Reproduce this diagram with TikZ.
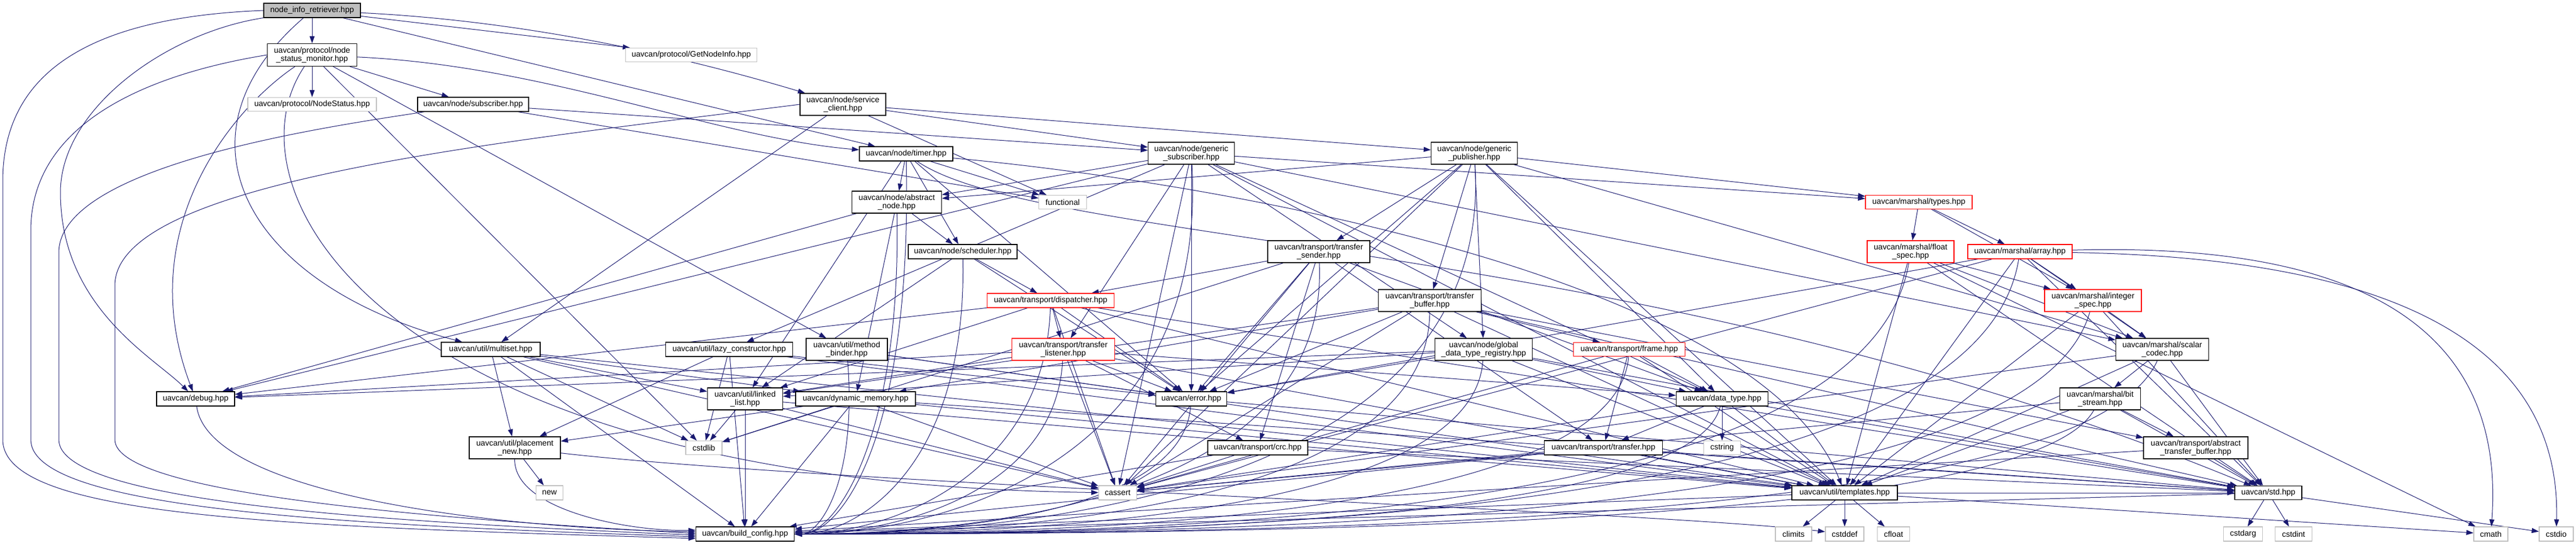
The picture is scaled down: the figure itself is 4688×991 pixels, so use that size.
\documentclass[tikz,border=0pt]{standalone}
\usepackage{fontspec}
\setmainfont{Liberation Sans}
\usetikzlibrary{arrows.meta}
\definecolor{edgec}{RGB}{25,25,112}
\definecolor{greyb}{RGB}{191,191,191}
\newcommand\nodefnt{\fontsize{14.5}{15}\selectfont}
\pgfdeclarelayer{bg}
\pgfsetlayers{bg,main}
\tikzset{
  filebox/.style={draw=black, fill=white, line width=1.2pt, inner sep=0pt, align=center, font=\nodefnt},
  sysbox/.style={filebox, draw=greyb},
  truncbox/.style={filebox, draw=red},
  rootbox/.style={filebox, fill=greyb},
  e/.style={draw=edgec, line width=1pt, -{Triangle[length=13pt,width=9pt]}, edgec}
}
\newcommand\lnk[2]{\draw[e] (#1) -- (#2);}
\newcommand\bcR[4]{\draw[e] (#1) .. controls (#2,#3) and (#4,972) .. (bc.east);}
\begin{document}
\begin{tikzpicture}[x=1pt,y=-1pt]
\useasboundingbox (0,0) rectangle (4688,991);
% nodes
\node[rootbox, minimum width=176pt, minimum height=26pt] (nir) at (568,19) {node\_info\_retriever.hpp};
\node[filebox, minimum width=163pt, minimum height=41pt] (nsm) at (568,100) {uavcan/protocol/node\\\_status\_monitor.hpp};
\node[sysbox, minimum width=234pt, minimum height=25pt] (ns) at (568,190) {uavcan/protocol/NodeStatus.hpp};
\node[sysbox, minimum width=239pt, minimum height=25pt] (gni) at (1258,100) {uavcan/protocol/GetNodeInfo.hpp};
\node[filebox, minimum width=202pt, minimum height=26pt] (sub) at (861,190) {uavcan/node/subscriber.hpp};
\node[filebox, minimum width=156pt, minimum height=40pt] (sc) at (1534,190) {uavcan/node/service\\\_client.hpp};
\node[filebox, minimum width=170pt, minimum height=26pt] (timer) at (1649,280) {uavcan/node/timer.hpp};
\node[filebox, minimum width=157pt, minimum height=40pt] (gsub) at (2168,279) {uavcan/node/generic\\\_subscriber.hpp};
\node[filebox, minimum width=157pt, minimum height=40pt] (gpub) at (2683,279) {uavcan/node/generic\\\_publisher.hpp};
\node[filebox, minimum width=163pt, minimum height=40pt] (an) at (1632,368) {uavcan/node/abstract\\\_node.hpp};
\node[sysbox, minimum width=87pt, minimum height=25pt] (func) at (1934,368) {functional};
\node[truncbox, minimum width=194pt, minimum height=25pt] (types) at (3492,368) {uavcan/marshal/types.hpp};
\node[filebox, minimum width=198pt, minimum height=26pt] (sched) at (1752,458) {uavcan/node/scheduler.hpp};
\node[filebox, minimum width=186pt, minimum height=40pt] (tsend) at (2400,458) {uavcan/transport/transfer\\\_sender.hpp};
\node[truncbox, minimum width=158pt, minimum height=40pt] (fspec) at (3477,458) {uavcan/marshal/float\\\_spec.hpp};
\node[truncbox, minimum width=190pt, minimum height=26pt] (array) at (3676,458) {uavcan/marshal/array.hpp};
\node[truncbox, minimum width=231pt, minimum height=26pt] (disp) at (1912,547) {uavcan/transport/dispatcher.hpp};
\node[filebox, minimum width=187pt, minimum height=40pt] (tbuf) at (2602,547) {uavcan/transport/transfer\\\_buffer.hpp};
\node[truncbox, minimum width=176pt, minimum height=40pt] (ispec) at (3809,547) {uavcan/marshal/integer\\\_spec.hpp};
\node[filebox, minimum width=180pt, minimum height=26pt] (mset) at (893,636) {uavcan/util/multiset.hpp};
\node[filebox, minimum width=231pt, minimum height=26pt] (lazy) at (1327,636) {uavcan/util/lazy\_constructor.hpp};
\node[filebox, minimum width=148pt, minimum height=40pt] (mb) at (1541,636) {uavcan/util/method\\\_binder.hpp};
\node[truncbox, minimum width=187pt, minimum height=40pt] (tlis) at (1935,636) {uavcan/transport/transfer\\\_listener.hpp};
\node[filebox, minimum width=177pt, minimum height=40pt] (gdtr) at (2700,636) {uavcan/node/global\\\_data\_type\_registry.hpp};
\node[truncbox, minimum width=203pt, minimum height=25pt] (frame) at (2965,636) {uavcan/transport/frame.hpp};
\node[filebox, minimum width=169pt, minimum height=40pt] (scodec) at (3935,636) {uavcan/marshal/scalar\\\_codec.hpp};
\node[filebox, minimum width=142pt, minimum height=26pt] (debug) at (356,726) {uavcan/debug.hpp};
\node[filebox, minimum width=137pt, minimum height=40pt] (ll) at (1356,726) {uavcan/util/linked\\\_list.hpp};
\node[filebox, minimum width=218pt, minimum height=26pt] (dm) at (1557,726) {uavcan/dynamic\_memory.hpp};
\node[filebox, minimum width=129pt, minimum height=26pt] (err) at (2168,726) {uavcan/error.hpp};
\node[filebox, minimum width=167pt, minimum height=26pt] (dtype) at (3134,726) {uavcan/data\_type.hpp};
\node[filebox, minimum width=147pt, minimum height=40pt] (bs) at (3822,726) {uavcan/marshal/bit\\\_stream.hpp};
\node[filebox, minimum width=166pt, minimum height=40pt] (pnew) at (937,815) {uavcan/util/placement\\\_new.hpp};
\node[sysbox, minimum width=66pt, minimum height=25pt] (cstdlib) at (1281,815) {cstdlib};
\node[filebox, minimum width=182pt, minimum height=26pt] (crc) at (2289,815) {uavcan/transport/crc.hpp};
\node[filebox, minimum width=215pt, minimum height=26pt] (transfer) at (2918,815) {uavcan/transport/transfer.hpp};
\node[sysbox, minimum width=67pt, minimum height=25pt] (cstring) at (3134,815) {cstring};
\node[filebox, minimum width=190pt, minimum height=40pt] (atb) at (3996,815) {uavcan/transport/abstract\\\_transfer\_buffer.hpp};
\node[sysbox, minimum width=49pt, minimum height=26pt] (new) at (1000,897) {new};
\node[sysbox, minimum width=69pt, minimum height=26pt] (cassert) at (2034,897) {cassert};
\node[filebox, minimum width=192pt, minimum height=26pt] (templates) at (3357,897) {uavcan/util/templates.hpp};
\node[filebox, minimum width=122pt, minimum height=25pt] (std) at (4128,897) {uavcan/std.hpp};
\node[filebox, minimum width=179pt, minimum height=26pt] (bc) at (1356,972) {uavcan/build\_config.hpp};
\node[sysbox, minimum width=66pt, minimum height=26pt] (climits) at (3264,972) {climits};
\node[sysbox, minimum width=70pt, minimum height=26pt] (cstddef) at (3357,972) {cstddef};
\node[sysbox, minimum width=59pt, minimum height=26pt] (cfloat) at (3446,972) {cfloat};
\node[sysbox, minimum width=71pt, minimum height=26pt] (cstdarg) at (4082,972) {cstdarg};
\node[sysbox, minimum width=67pt, minimum height=26pt] (cstdint) at (4174,972) {cstdint};
\node[sysbox, minimum width=62pt, minimum height=26pt] (cmath) at (4533,972) {cmath};
\node[sysbox, minimum width=62pt, minimum height=26pt] (cstdio) at (4652,972) {cstdio};
\begin{pgfonlayer}{bg}
\fill[white] (0,0) rectangle (4688,991);
% routed edges on the left into build_config
\draw[e] (nir.west) .. controls (200,30) and (5,110) .. (5,330) -- (5,800) .. controls (5,940) and (500,958) .. ([yshift=-8pt]bc.west);
\draw[e] (nsm.west) .. controls (300,130) and (56,210) .. (56,420) -- (56,800) .. controls (56,925) and (600,955) .. ([yshift=-5pt]bc.west);
\draw[e] (sub) .. controls (600,230) and (107,300) .. (107,460) -- (107,800) .. controls (107,915) and (700,950) .. ([yshift=-2pt]bc.west);
\draw[e] (sc.west) .. controls (900,260) and (209,330) .. (209,520) -- (209,800) .. controls (209,900) and (800,945) .. ([yshift=1pt]bc.west);
\draw[e] (debug) .. controls (380,900) and (900,962) .. ([yshift=4pt]bc.west);
\draw[e] (pnew) .. controls (935,930) and (1150,968) .. ([yshift=7pt]bc.west);
% routed edges into debug
\draw[e] (nir) .. controls (300,60) and (110,200) .. (110,350) .. controls (110,560) and (280,650) .. (debug);
\draw[e] (nsm) .. controls (420,200) and (240,420) .. (debug);
% nir
\lnk{nir}{nsm}\lnk{nir}{gni}\lnk{nir}{timer}
\draw[e] (nir) .. controls (1000,40) and (1300,120) .. (sc);
\draw[e] (nir) .. controls (300,250) and (450,520) .. (mset);
% nsm
\lnk{nsm}{ns}\lnk{nsm}{sub}\lnk{nsm}{mb}\lnk{nsm}{cstdlib}
\draw[e] (nsm) .. controls (1000,120) and (1300,250) .. (timer);
\draw[e] (nsm) .. controls (400,350) and (700,880) .. (cassert);
% sub
\lnk{sub}{gsub}\lnk{sub}{func}
% sc
\lnk{sc}{gsub}\lnk{sc}{gpub}\lnk{sc}{func}\lnk{sc}{mset}
% timer
\lnk{timer}{an}\lnk{timer}{sched}\lnk{timer}{func}\lnk{timer}{err}\lnk{timer}{ll}
\draw[e] (timer) .. controls (1900,450) and (3000,430) .. (std);
\draw[e] (timer) .. controls (2200,330) and (3200,500) .. (templates);
\bcR{timer}{1660}{800}{1530}
% gsub
\lnk{gsub}{an}\lnk{gsub}{err}\lnk{gsub}{dtype}\lnk{gsub}{gdtr}\lnk{gsub}{templates}\lnk{gsub}{lazy}\lnk{gsub}{tlis}\lnk{gsub}{scodec}\lnk{gsub}{types}\lnk{gsub}{debug}\lnk{gsub}{cassert}
\bcR{gsub}{2200}{850}{1700}
% gpub
\lnk{gpub}{an}\lnk{gpub}{err}\lnk{gpub}{dtype}\lnk{gpub}{gdtr}\lnk{gpub}{templates}\lnk{gpub}{tsend}\lnk{gpub}{scodec}\lnk{gpub}{types}\lnk{gpub}{tbuf}\lnk{gpub}{cassert}
\bcR{gpub}{2720}{880}{1900}
% an
\lnk{an}{sched}\lnk{an}{dm}\lnk{an}{debug}
\bcR{an}{1640}{800}{1520}
% sched
\lnk{sched}{disp}\lnk{sched}{err}\lnk{sched}{ll}
\bcR{sched}{1760}{850}{1560}
% tsend
\lnk{tsend}{disp}\lnk{tsend}{crc}\lnk{tsend}{transfer}\lnk{tsend}{err}\lnk{tsend}{dtype}\lnk{tsend}{cassert}\lnk{tsend}{cstdlib}
\bcR{tsend}{2420}{900}{1800}
% disp
\lnk{disp}{tlis}\lnk{disp}{cassert}\lnk{disp}{err}\lnk{disp}{ll}\lnk{disp}{debug}\lnk{disp}{std}\lnk{disp}{templates}
\bcR{disp}{1900}{880}{1600}
% tbuf
\lnk{tbuf}{err}\lnk{tbuf}{frame}\lnk{tbuf}{ll}\lnk{tbuf}{templates}\lnk{tbuf}{dm}\lnk{tbuf}{atb}\lnk{tbuf}{std}\lnk{tbuf}{cassert}
\bcR{tbuf}{2600}{920}{1850}
% tlis
\lnk{tlis}{cassert}\lnk{tlis}{err}\lnk{tlis}{crc}\lnk{tlis}{dtype}\lnk{tlis}{ll}\lnk{tlis}{templates}\lnk{tlis}{debug}
\bcR{tlis}{1920}{900}{1620}
% mset
\lnk{mset}{cassert}\lnk{mset}{cstdlib}\lnk{mset}{ll}\lnk{mset}{bc}\lnk{mset}{dm}\lnk{mset}{templates}\lnk{mset}{pnew}
% lazy
\lnk{lazy}{cstdlib}\lnk{lazy}{err}\lnk{lazy}{bc}\lnk{lazy}{templates}\lnk{lazy}{pnew}
% mb
\lnk{mb}{err}\lnk{mb}{templates}
\bcR{mb}{1560}{880}{1490}
% gdtr
\lnk{gdtr}{err}\lnk{gdtr}{dtype}\lnk{gdtr}{std}\lnk{gdtr}{ll}\lnk{gdtr}{templates}\lnk{gdtr}{debug}
\bcR{gdtr}{2680}{930}{1900}
% frame
\lnk{frame}{transfer}\lnk{frame}{dtype}\lnk{frame}{templates}\lnk{frame}{cassert}
\bcR{frame}{2940}{935}{2000}
% ll
\lnk{ll}{bc}\lnk{ll}{cstdlib}\lnk{ll}{cassert}\lnk{ll}{templates}
% dm
\lnk{dm}{pnew}\lnk{dm}{cstdlib}\lnk{dm}{bc}\lnk{dm}{templates}\lnk{dm}{std}\lnk{dm}{cassert}
% err
\lnk{err}{std}
\bcR{err}{2150}{940}{1700}
% dtype
\lnk{dtype}{cassert}\lnk{dtype}{cstring}\lnk{dtype}{std}\lnk{dtype}{transfer}\lnk{dtype}{templates}
\bcR{dtype}{3080}{945}{2100}
% pnew
\lnk{pnew}{new}
\draw[e] (pnew) .. controls (1500,880) and (3000,930) .. (cstddef);
% crc
\lnk{crc}{cassert}\lnk{crc}{bc}\lnk{crc}{std}
% transfer
\lnk{transfer}{cassert}\lnk{transfer}{bc}\lnk{transfer}{std}\lnk{transfer}{templates}
% templates
\lnk{templates}{climits}\lnk{templates}{cstddef}\lnk{templates}{cfloat}\lnk{templates}{cmath}\lnk{templates}{bc}\lnk{templates}{std}
% std
\lnk{std}{bc}\lnk{std}{cstdarg}\lnk{std}{cstdint}\lnk{std}{cstdio}
% marshal
\lnk{types}{fspec}\lnk{types}{array}\lnk{types}{ispec}
\lnk{fspec}{ispec}\lnk{fspec}{scodec}\lnk{fspec}{templates}\lnk{fspec}{cmath}\lnk{fspec}{std}
\bcR{fspec}{3400}{930}{2200}
\lnk{array}{cassert}\lnk{array}{std}\lnk{array}{err}\lnk{array}{templates}\lnk{array}{ispec}\lnk{array}{scodec}
\draw[e] (array) .. controls (4300,440) and (4560,600) .. (cmath);
\draw[e] (array) .. controls (4400,470) and (4660,650) .. (cstdio);
\bcR{array}{3600}{930}{2300}
\lnk{ispec}{scodec}\lnk{ispec}{std}\lnk{ispec}{templates}
\bcR{ispec}{3700}{935}{2400}
\lnk{scodec}{bs}\lnk{scodec}{std}\lnk{scodec}{templates}\lnk{scodec}{cassert}
\bcR{scodec}{3800}{940}{2500}
\lnk{bs}{atb}\lnk{bs}{std}\lnk{bs}{templates}\lnk{bs}{cassert}
\bcR{bs}{3700}{945}{2500}
\lnk{atb}{std}\lnk{atb}{bc}
\end{pgfonlayer}
\end{tikzpicture}
\end{document}
